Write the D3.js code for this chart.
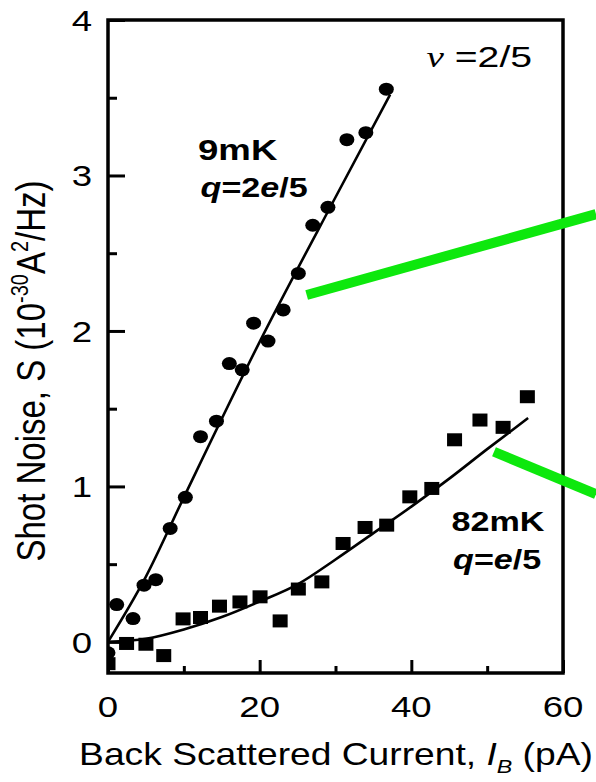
<!DOCTYPE html>
<meta charset="utf-8">
<script src="https://cdnjs.cloudflare.com/ajax/libs/d3/7.8.5/d3.min.js"></script>
<style>
body { margin: 0; background: #fff; }
text { font-family: "Liberation Sans", Arial, sans-serif; fill: #000; }
</style>
<body>
<script>

// data
var dotX = [0, 1.15, 3.3, 4.75, 6.3, 8.2, 10.2, 12.2, 14.3, 16.0, 17.7, 19.2, 21.1, 23.1, 25.1, 27.0, 29.0, 31.5, 34.0, 36.7];
var dotY = [-0.07, 0.24, 0.15, 0.365, 0.40, 0.73, 0.93, 1.32, 1.42, 1.79, 1.75, 2.05, 1.935, 2.135, 2.37, 2.68, 2.795, 3.23, 3.275, 3.555];

var sqX = [0, 2.45, 5.0, 7.35, 9.9, 12.2, 14.7, 17.4, 20.05, 22.7, 25.1, 28.2, 31.0, 33.9, 36.75, 39.8, 42.7, 45.7, 49.05, 52.1, 55.3];
var sqY = [-0.14, -0.01, -0.015, -0.088, 0.148, 0.157, 0.23, 0.257, 0.29, 0.135, 0.34, 0.386, 0.633, 0.736, 0.751, 0.933, 0.987, 1.30, 1.427, 1.38, 1.577];

var fit9X = [0, 5, 10, 20, 30, 37.2];
var fit9Y = [0, 0.42, 0.93, 1.93, 2.86, 3.52];

var fit82X = [0, 5, 10, 15, 20, 25, 30, 35, 40, 45, 50, 55.4];
var fit82Y = [0, 0.02, 0.08, 0.16, 0.26, 0.37, 0.53, 0.70, 0.87, 1.05, 1.24, 1.44];

var xTicks = [0, 20, 40, 60];
var xMinor = [10, 30, 50];
var yTicks = [0, 1, 2, 3, 4];
var yMinor = [0.5, 1.5, 2.5, 3.5];

// green pointer strokes, in data units
var greenLines = [
  [[26.2, 2.231], [64.35, 2.751]],
  [[50.9, 1.223], [64.35, 0.950]]
];

var W = 596, H = 782;
var pL = 108, pR = 563, pT = 20, pB = 673;
var sx = 1.22; // the original lettering is stretched sideways

var svg = d3.select("body").append("svg")
  .attr("width", W)
  .attr("height", H);

var x = d3.scaleLinear().domain([0, 60]).range([pL, pR]);
var y = d3.scaleLinear().domain([-0.2, 4]).range([pB, pT]);

svg.append("clipPath").attr("id", "plot")
  .append("rect")
  .attr("x", pL).attr("y", pT)
  .attr("width", pR - pL).attr("height", pB - pT);

var plot = svg.append("g").attr("clip-path", "url(#plot)");

// fit curves
var line = d3.line()
  .x(function(d) { return x(d[0]); })
  .y(function(d) { return y(d[1]); })
  .curve(d3.curveMonotoneX);

plot.append("path")
  .datum(d3.zip(fit9X, fit9Y))
  .attr("d", line)
  .attr("fill", "none").attr("stroke", "#000").attr("stroke-width", 2.6);

plot.append("path")
  .datum(d3.zip(fit82X, fit82Y))
  .attr("d", line)
  .attr("fill", "none").attr("stroke", "#000").attr("stroke-width", 2.6);

// points
plot.selectAll(".dot").data(d3.zip(dotX, dotY)).enter()
  .append("ellipse").attr("class", "dot")
  .attr("cx", function(d) { return x(d[0]); })
  .attr("cy", function(d) { return y(d[1]); })
  .attr("rx", 7.5).attr("ry", 6.5)
  .attr("fill", "#000");

plot.selectAll(".sq").data(d3.zip(sqX, sqY)).enter()
  .append("rect").attr("class", "sq")
  .attr("x", function(d) { return x(d[0]) - 7.5; })
  .attr("y", function(d) { return y(d[1]) - 6.5; })
  .attr("width", 15).attr("height", 13)
  .attr("fill", "#000");

// axes: ticks point inward, labels drawn by hand to get the stretch
svg.append("g")
  .attr("transform", "translate(0," + pB + ")")
  .call(d3.axisTop(x).tickValues(xTicks).tickSize(13).tickFormat(""));
svg.append("g")
  .attr("transform", "translate(0," + pB + ")")
  .call(d3.axisTop(x).tickValues(xMinor).tickSize(7).tickFormat(""));
svg.append("g")
  .attr("transform", "translate(" + pL + ",0)")
  .call(d3.axisRight(y).tickValues(yTicks).tickSize(17).tickFormat(""));
svg.append("g")
  .attr("transform", "translate(" + pL + ",0)")
  .call(d3.axisRight(y).tickValues(yMinor).tickSize(9).tickFormat(""));

svg.selectAll(".domain").remove();
svg.selectAll(".tick line").attr("stroke", "#000").attr("stroke-width", 3);

// frame
svg.append("rect")
  .attr("x", pL).attr("y", pT)
  .attr("width", pR - pL).attr("height", pB - pT)
  .attr("fill", "none").attr("stroke", "#000").attr("stroke-width", 3.5);

// tick labels
svg.selectAll(".xl").data(xTicks).enter().append("text")
  .attr("class", "xl")
  .attr("transform", function(d) { return "translate(" + x(d) + ",717) scale(" + sx + ",1)"; })
  .attr("text-anchor", "middle")
  .style("font-size", "30px")
  .text(function(d) { return d; });

svg.selectAll(".yl").data(yTicks).enter().append("text")
  .attr("class", "yl")
  .attr("transform", function(d) { return "translate(92," + (y(d) + 11) + ") scale(" + sx + ",1)"; })
  .attr("text-anchor", "end")
  .style("font-size", "30px")
  .text(function(d) { return d; });

// axis titles
var xt = svg.append("text")
  .attr("transform", "translate(336,765) scale(" + sx + ",1)")
  .attr("text-anchor", "middle")
  .style("font-size", "30.5px");
xt.append("tspan").text("Back Scattered Current, ");
xt.append("tspan").style("font-style", "italic").text("I");
xt.append("tspan").style("font-style", "italic").style("font-size", "19px").attr("dy", 8).text("B");
xt.append("tspan").attr("dy", -8).text(" (pA)");

var yt = svg.append("text")
  .attr("transform", "translate(45,371) rotate(-90) scale(1," + sx + ")")
  .attr("text-anchor", "middle")
  .style("font-size", "33px");
yt.append("tspan").text("Shot Noise, S (10");
yt.append("tspan").style("font-size", "20px").attr("dy", -14).text("-30");
yt.append("tspan").attr("dy", 14).text("A");
yt.append("tspan").style("font-size", "20px").attr("dy", -14).text("2");
yt.append("tspan").attr("dy", 14).text("/Hz)");

// annotations
function label(px, py, size, weight) {
  return svg.append("text")
    .attr("transform", "translate(" + x(px) + "," + y(py) + ") scale(" + sx + ",1)")
    .style("font-size", size + "px")
    .style("font-weight", weight);
}

label(11.87, 3.10, 30, "bold").text("9mK");
var q1 = label(12.2, 2.864, 28, "bold");
q1.append("tspan").style("font-style", "italic").text("q");
q1.append("tspan").text("=2");
q1.append("tspan").style("font-style", "italic").text("e");
q1.append("tspan").text("/5");

label(45.3, 0.711, 28, "bold").text("82mK");
var q2 = label(45.5, 0.472, 28, "bold");
q2.append("tspan").style("font-style", "italic").text("q");
q2.append("tspan").text("=");
q2.append("tspan").style("font-style", "italic").text("e");
q2.append("tspan").text("/5");

var nu = svg.append("text")
  .attr("transform", "translate(" + x(42.0) + "," + y(3.70) + ") scale(1.35,1)")
  .style("font-size", "29px");
nu.append("tspan").style("font-family", "'Liberation Serif', serif").style("font-style", "italic").text("\u03bd");
nu.append("tspan").text(" =2/5");

// green pointers
svg.selectAll(".green").data(greenLines).enter()
  .append("line").attr("class", "green")
  .attr("x1", function(d) { return x(d[0][0]); })
  .attr("y1", function(d) { return y(d[0][1]); })
  .attr("x2", function(d) { return x(d[1][0]); })
  .attr("y2", function(d) { return y(d[1][1]); })
  .attr("stroke", "#0de80d").attr("stroke-width", 10);

</script>
</body>
</html>
